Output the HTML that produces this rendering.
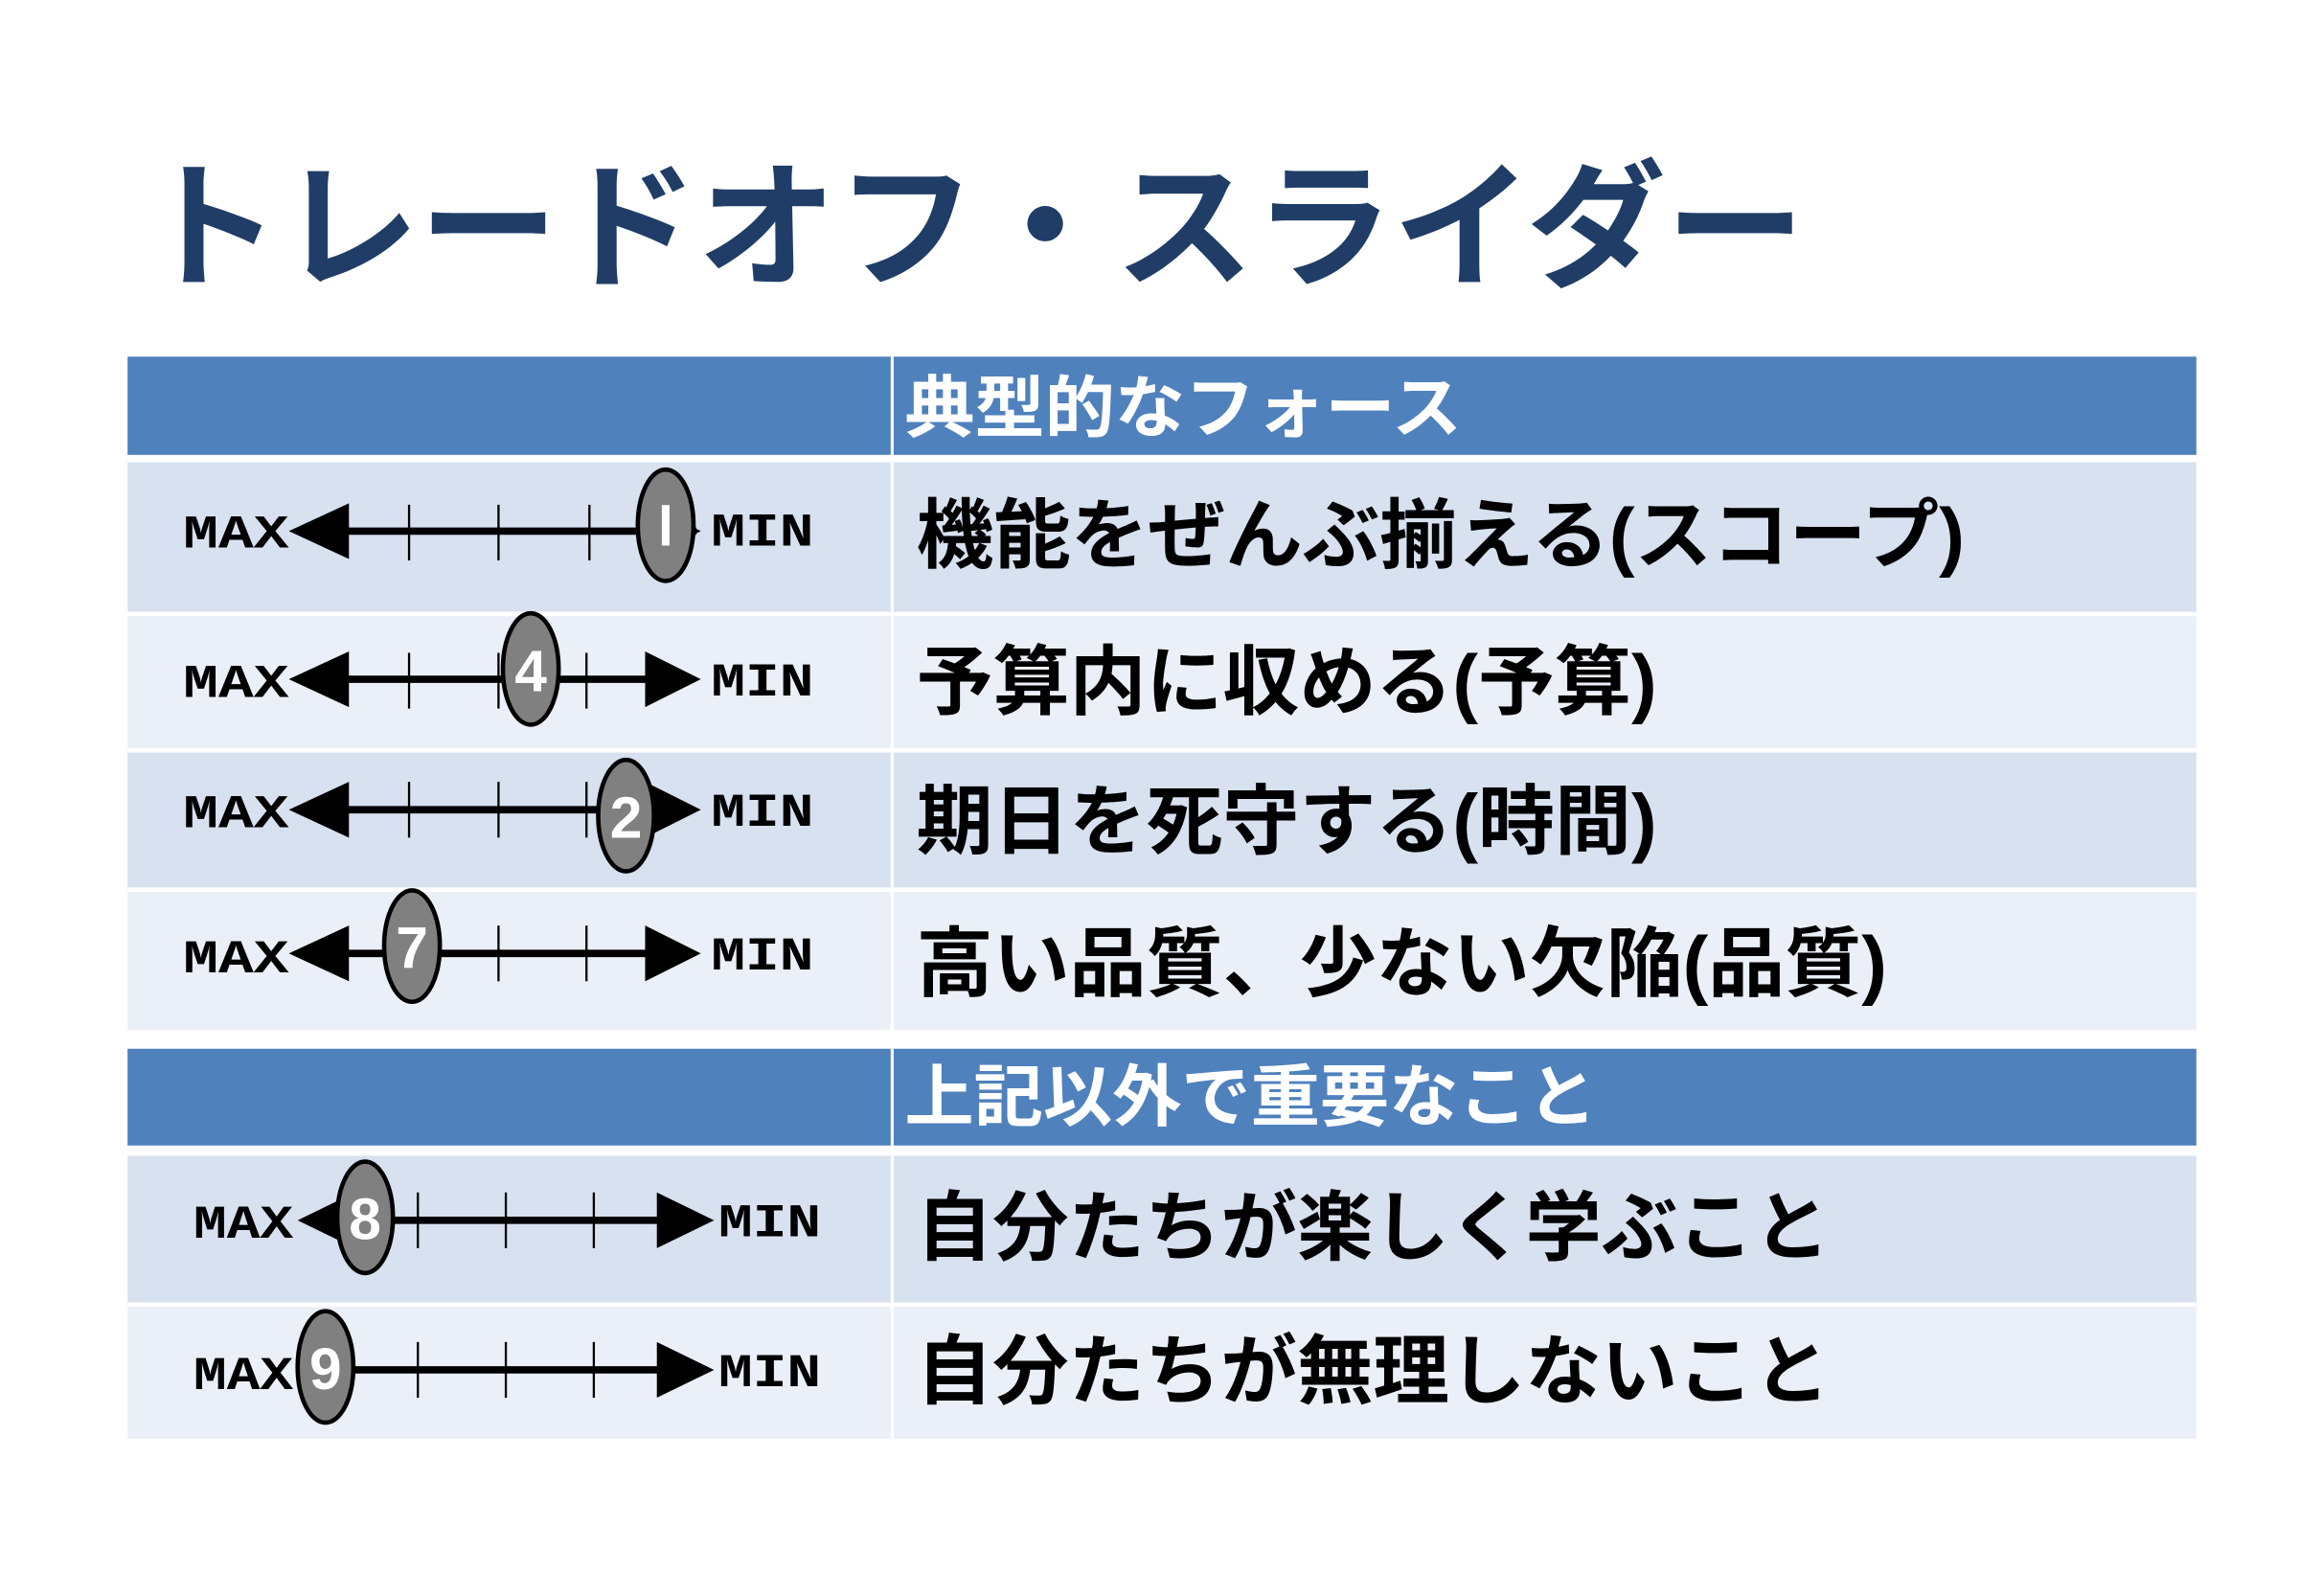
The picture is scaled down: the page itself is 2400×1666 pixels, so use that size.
<!DOCTYPE html>
<html><head><meta charset="utf-8"><style>html,body{margin:0;padding:0;background:#fff}svg{display:block}</style></head>
<body>
<svg width="2400" height="1666" viewBox="0 0 1568 1088" xmlns="http://www.w3.org/2000/svg">
<rect width="1568" height="1088" fill="#fff"/>
<text x="96" y="188" font-family="Liberation Sans, Noto Sans CJK JP, sans-serif" font-weight="bold" font-size="94" fill="#1f3d66" textLength="1135" lengthAdjust="spacingAndGlyphs">トレードオフ・スライダー</text>

<rect x="87" y="243" width="1411" height="67" fill="#4f81bd"/>
<rect x="87" y="715" width="1411" height="66" fill="#4f81bd"/>
<rect x="87" y="315" width="1411" height="102" fill="#d7e1ef"/>
<rect x="87" y="420" width="1411" height="90" fill="#ebeff7"/>
<rect x="87" y="513" width="1411" height="92" fill="#d7e1ef"/>
<rect x="87" y="608" width="1411" height="94" fill="#ebeff7"/>
<rect x="87" y="788" width="1411" height="100" fill="#d7e1ef"/>
<rect x="87" y="891" width="1411" height="90" fill="#ebeff7"/>
<rect x="607.5" y="243" width="2" height="459" fill="#fff"/>
<rect x="607.5" y="715" width="2" height="266" fill="#fff"/>

<g font-family="Liberation Sans, Noto Sans CJK JP, sans-serif" font-weight="bold">
<text x="617" y="294" font-size="46" fill="#fff" textLength="380" lengthAdjust="spacingAndGlyphs">典型的なフォース</text>
<text x="617" y="764" font-size="46" fill="#fff" textLength="472" lengthAdjust="spacingAndGlyphs">上記以外で重要なこと</text>
<g font-size="52" fill="#000">
<text x="625" y="383" textLength="715" lengthAdjust="spacingAndGlyphs">機能をぜんぶ揃える(スコープ)</text>
<text x="625" y="483" textLength="505" lengthAdjust="spacingAndGlyphs">予算内に収める(予算)</text>
<text x="625" y="578" textLength="505" lengthAdjust="spacingAndGlyphs">期日を死守する(時間)</text>
<text x="625" y="675" textLength="662" lengthAdjust="spacingAndGlyphs">高い品質、少ない欠陥(品質)</text>
<text x="625" y="855" textLength="623" lengthAdjust="spacingAndGlyphs">自分たちが楽しく学ぶこと</text>
<text x="625" y="953" textLength="623" lengthAdjust="spacingAndGlyphs">自分たちが無理しないこと</text>
</g>
</g>

<g font-family="Liberation Mono, monospace" font-weight="bold" font-size="32" fill="#000">
<text x="125" y="373" textLength="72" lengthAdjust="spacingAndGlyphs">MAX</text>
<text x="485" y="372" textLength="70" lengthAdjust="spacingAndGlyphs">MIN</text>
<text x="125" y="475" textLength="72" lengthAdjust="spacingAndGlyphs">MAX</text>
<text x="485" y="474" textLength="70" lengthAdjust="spacingAndGlyphs">MIN</text>
<text x="125" y="564" textLength="72" lengthAdjust="spacingAndGlyphs">MAX</text>
<text x="485" y="563" textLength="70" lengthAdjust="spacingAndGlyphs">MIN</text>
<text x="125" y="663" textLength="72" lengthAdjust="spacingAndGlyphs">MAX</text>
<text x="485" y="661" textLength="70" lengthAdjust="spacingAndGlyphs">MIN</text>
<text x="132" y="844" textLength="68" lengthAdjust="spacingAndGlyphs">MAX</text>
<text x="490" y="843" textLength="70" lengthAdjust="spacingAndGlyphs">MIN</text>
<text x="132" y="947" textLength="68" lengthAdjust="spacingAndGlyphs">MAX</text>
<text x="490" y="945" textLength="70" lengthAdjust="spacingAndGlyphs">MIN</text>
</g>

<g stroke="#000" fill="#000">
<line x1="230" y1="362" x2="475" y2="362" stroke-width="5"/>
<polygon points="197,362 238,343 238,381" stroke="none"/>
<polygon points="440,343 478,362 440,381" stroke="none"/>
<g stroke-width="1.5"><line x1="279" y1="344" x2="279" y2="382"/><line x1="340" y1="344" x2="340" y2="382"/><line x1="402" y1="344" x2="402" y2="382"/></g>
<line x1="230" y1="463" x2="445" y2="463" stroke-width="5"/>
<polygon points="197,463 238,444 238,482" stroke="none"/>
<polygon points="440,444 478,463 440,482" stroke="none"/>
<g stroke-width="1.5"><line x1="279" y1="445" x2="279" y2="483"/><line x1="340" y1="445" x2="340" y2="483"/><line x1="400" y1="445" x2="400" y2="483"/></g>
<line x1="230" y1="552" x2="445" y2="552" stroke-width="5"/>
<polygon points="197,552 238,533 238,571" stroke="none"/>
<polygon points="440,533 478,552 440,571" stroke="none"/>
<g stroke-width="1.5"><line x1="279" y1="533" x2="279" y2="571"/><line x1="340" y1="533" x2="340" y2="571"/><line x1="400" y1="533" x2="400" y2="571"/></g>
<line x1="230" y1="650" x2="445" y2="650" stroke-width="5"/>
<polygon points="197,650 238,631 238,669" stroke="none"/>
<polygon points="440,631 478,650 440,669" stroke="none"/>
<g stroke-width="1.5"><line x1="340" y1="631" x2="340" y2="669"/><line x1="400" y1="631" x2="400" y2="669"/></g>
<line x1="230" y1="832" x2="455" y2="832" stroke-width="5"/>
<polygon points="203,832 240,814 240,850" stroke="none"/>
<polygon points="448,813 487,832 448,851" stroke="none"/>
<g stroke-width="1.5"><line x1="285" y1="813" x2="285" y2="851"/><line x1="345" y1="813" x2="345" y2="851"/><line x1="405" y1="813" x2="405" y2="851"/></g>
<line x1="230" y1="934" x2="455" y2="934" stroke-width="5"/>
<polygon points="448,915 487,934 448,953" stroke="none"/>
<g stroke-width="1.5"><line x1="285" y1="915" x2="285" y2="953"/><line x1="345" y1="915" x2="345" y2="953"/><line x1="405" y1="915" x2="405" y2="953"/></g>
</g>

<g fill="#808080" stroke="#000" stroke-width="3">
<ellipse cx="454" cy="358" rx="19" ry="38"/>
<ellipse cx="362" cy="456" rx="19" ry="38"/>
<ellipse cx="427" cy="556" rx="19" ry="38"/>
<ellipse cx="281" cy="645" rx="19" ry="38"/>
<ellipse cx="249" cy="830" rx="19" ry="38"/>
<ellipse cx="222" cy="932" rx="19" ry="38"/>
</g>
<g font-family="Liberation Sans, sans-serif" font-weight="bold" font-size="40" fill="#fff" text-anchor="middle">
<text x="454" y="372" textLength="10" lengthAdjust="spacingAndGlyphs">I</text>
<text x="362" y="471" textLength="22" lengthAdjust="spacingAndGlyphs">4</text>
<text x="427" y="571" textLength="22" lengthAdjust="spacingAndGlyphs">2</text>
<text x="281" y="660" textLength="22" lengthAdjust="spacingAndGlyphs">7</text>
<text x="249" y="845" textLength="22" lengthAdjust="spacingAndGlyphs">8</text>
<text x="222" y="947" textLength="22" lengthAdjust="spacingAndGlyphs">9</text>
</g>
</svg>
</body></html>
